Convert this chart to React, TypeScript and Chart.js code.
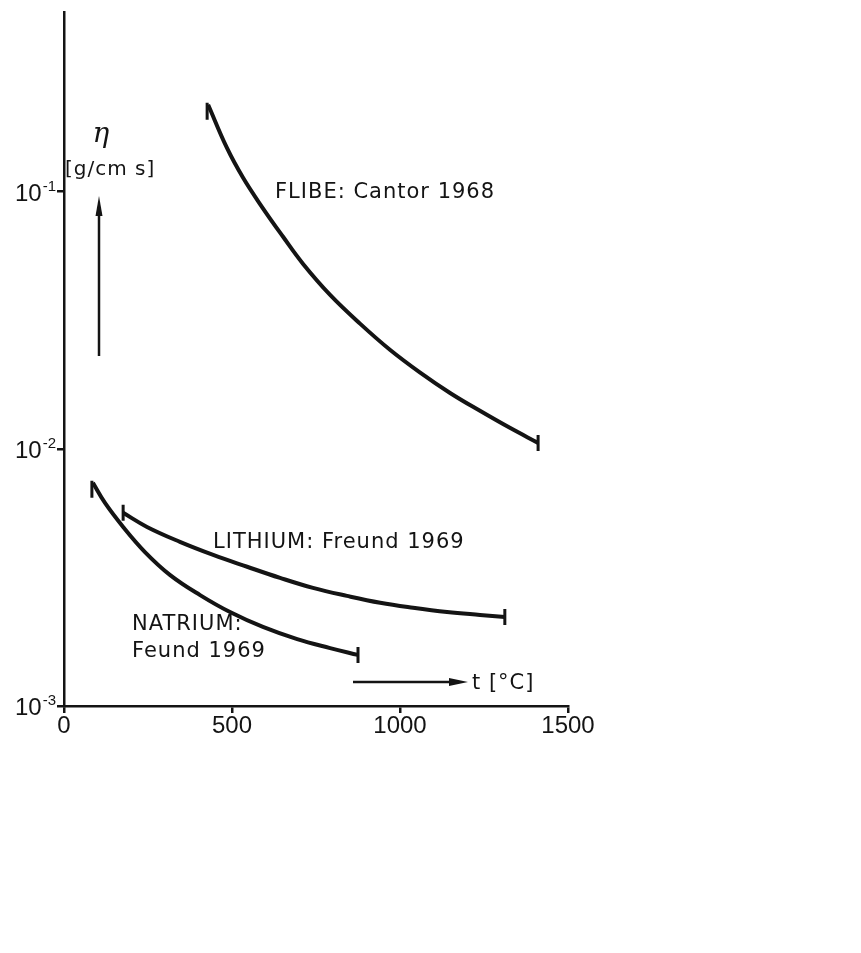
import React, { useEffect, useRef } from 'react';
import { Chart, registerables } from 'chart.js';

Chart.register(...registerables);

// ---- data (t in °C, viscosity in g/cm s) ----
const flibeT = [429, 485, 533, 589, 652, 711, 792, 881, 970, 1060, 1149, 1238, 1327, 1411];
const flibeEta = [0.218, 0.148, 0.1133, 0.0874, 0.0668, 0.0525, 0.0397, 0.0307, 0.0243, 0.0198, 0.0165, 0.01406, 0.01207, 0.01055];

const lithiumT = [176, 247, 345, 444, 545, 643, 741, 842, 941, 1039, 1140, 1238, 1312];
const lithiumEta = [0.00564, 0.00497, 0.00435, 0.00387, 0.00348, 0.00315, 0.00288, 0.00268, 0.00252, 0.00241, 0.00232, 0.00226, 0.00222];

const natriumT = [86, 122, 176, 241, 316, 405, 494, 592, 694, 792, 875];
const natriumEta = [0.00738, 0.00616, 0.00497, 0.00397, 0.00323, 0.0027, 0.00232, 0.00203, 0.00182, 0.00168, 0.00158];

const seriesNames = ['FLIBE: Cantor 1968', 'LITHIUM: Freund 1969', 'NATRIUM: Feund 1969'];

const xMin = 0;
const xMax = 1500;
const xStep = 500;
const yMin = 0.001;
const yMax = 0.5;
const yTickValues = [0.001, 0.01, 0.1];
const yTickBase = ['10', '10', '10'];
const yTickExp = ['-3', '-2', '-1'];

const INK = '#141414';

const pts = (xs: number[], ys: number[]) => xs.map((x, i) => ({ x, y: ys[i] }));

// end-cap style per series: start cap and end cap
const capStyle = [
  { start: 'down', end: 'center' },
  { start: 'center', end: 'center' },
  { start: 'down', end: 'center' },
];

const capsPlugin = {
  id: 'caps',
  afterDatasetsDraw(chart: any) {
    const ctx = chart.ctx;
    ctx.save();
    ctx.strokeStyle = INK;
    ctx.lineWidth = 3;
    ctx.lineCap = 'butt';
    chart.data.datasets.forEach((_: any, i: number) => {
      const els = chart.getDatasetMeta(i).data;
      if (!els.length) return;
      const first = els[0];
      const last = els[els.length - 1];
      const st = capStyle[i];
      ctx.beginPath();
      if (st.start === 'down') {
        ctx.moveTo(first.x - 1, first.y - 2);
        ctx.lineTo(first.x - 1, first.y + 15);
      } else {
        ctx.moveTo(first.x, first.y - 8);
        ctx.lineTo(first.x, first.y + 8);
      }
      ctx.moveTo(last.x, last.y - 8);
      ctx.lineTo(last.x, last.y + 8);
      ctx.stroke();
    });
    ctx.restore();
  },
};

// y tick labels as powers of ten with a raised exponent
const yLabelPlugin = {
  id: 'ylabels',
  afterDraw(chart: any) {
    const ctx = chart.ctx;
    const ys = chart.scales.y;
    const right = ys.right - 8;
    ctx.save();
    ctx.fillStyle = INK;
    ctx.textBaseline = 'alphabetic';
    ctx.textAlign = 'right';
    yTickValues.forEach((v, i) => {
      const py = ys.getPixelForValue(v);
      ctx.font = '15px "Liberation Sans"';
      const expW = ctx.measureText(yTickExp[i]).width;
      ctx.fillText(yTickExp[i], right, py - 1);
      ctx.font = '24px "Liberation Sans"';
      ctx.fillText(yTickBase[i], right - expW - 1, py + 9);
    });
    ctx.restore();
  },
};

const textPlugin = {
  id: 'texts',
  afterDraw(chart: any) {
    const ctx = chart.ctx;
    ctx.save();
    ctx.fillStyle = INK;
    ctx.strokeStyle = INK;
    ctx.textAlign = 'left';
    ctx.textBaseline = 'alphabetic';

    // curve labels
    ctx.font = '21px "DejaVu Sans"';
    ctx.letterSpacing = '1px';
    ctx.fillText(seriesNames[0], 275, 198);
    ctx.fillText(seriesNames[1], 213, 548);
    ctx.fillText('NATRIUM:', 132, 630);
    ctx.fillText('Feund 1969', 132, 657);

    // axis titles
    ctx.font = '20px "DejaVu Sans"';
    ctx.fillText('[g/cm s]', 65, 175);
    ctx.font = '21px "DejaVu Sans"';
    ctx.fillText('t [\u00B0C]', 472, 689);
    ctx.letterSpacing = '0px';
    ctx.font = 'italic 28px "DejaVu Serif"';
    ctx.textAlign = 'center';
    ctx.fillText('\u03B7', 101, 142);

    // up arrow
    ctx.lineWidth = 2.5;
    ctx.beginPath();
    ctx.moveTo(99, 356);
    ctx.lineTo(99, 210);
    ctx.stroke();
    ctx.beginPath();
    ctx.moveTo(99, 196);
    ctx.lineTo(95.5, 216);
    ctx.lineTo(102.5, 216);
    ctx.closePath();
    ctx.fill();

    // right arrow
    ctx.beginPath();
    ctx.moveTo(353, 682);
    ctx.lineTo(455, 682);
    ctx.stroke();
    ctx.beginPath();
    ctx.moveTo(468, 682);
    ctx.lineTo(449, 678);
    ctx.lineTo(449, 686);
    ctx.closePath();
    ctx.fill();

    ctx.restore();
  },
};

export default function App() {
  const ref = useRef<HTMLCanvasElement | null>(null);

  useEffect(() => {
    if (!ref.current) return;
    const lineStyle = {
      borderColor: INK,
      borderWidth: 4,
      pointRadius: 0,
      fill: false,
      tension: 0.4,
    };
    const chart = new Chart(ref.current, {
      type: 'line',
      data: {
        datasets: [
          { label: seriesNames[0], data: pts(flibeT, flibeEta), ...lineStyle },
          { label: seriesNames[1], data: pts(lithiumT, lithiumEta), ...lineStyle },
          { label: seriesNames[2], data: pts(natriumT, natriumEta), ...lineStyle },
        ],
      },
      options: {
        animation: false,
        responsive: false,
        devicePixelRatio: 1,
        layout: { padding: { left: 0, top: 12, right: 293, bottom: 0 } },
        plugins: {
          legend: { display: false },
          tooltip: { enabled: false },
          title: { display: false },
        },
        scales: {
          x: {
            type: 'linear',
            min: xMin,
            max: xMax,
            border: { display: true, color: INK, width: 2.5 },
            grid: { drawOnChartArea: false, drawTicks: true, tickLength: 7, color: INK, lineWidth: 2.5 },
            ticks: {
              stepSize: xStep,
              color: INK,
              padding: -1,
              maxRotation: 0,
              font: { family: '"Liberation Sans"', size: 24 },
              callback: (v: any) => String(v),
            },
            afterFit: (s: any) => {
              s.height = 953 - 706;
              s.paddingLeft = 0;
              s.paddingRight = 0;
              s.paddingTop = 0;
              s.paddingBottom = 0;
            },
          },
          y: {
            type: 'logarithmic',
            min: yMin,
            max: yMax,
            border: { display: true, color: INK, width: 2.5 },
            grid: { drawOnChartArea: false, drawTicks: true, tickLength: 7, color: INK, lineWidth: 2.5 },
            afterBuildTicks: (s: any) => {
              s.ticks = yTickValues.map((v) => ({ value: v }));
            },
            ticks: {
              display: false,
              autoSkip: false,
            },
            afterFit: (s: any) => {
              s.width = 64;
              s.paddingLeft = 0;
              s.paddingRight = 0;
              s.paddingTop = 0;
              s.paddingBottom = 0;
            },
          },
        },
      },
      plugins: [capsPlugin, yLabelPlugin, textPlugin],
    });
    return () => chart.destroy();
  }, []);

  return (
    <div style={{ position: 'fixed', left: 0, top: 0, width: 861, height: 953, background: '#fff' }}>
      <canvas ref={ref} width={861} height={953} style={{ width: 861, height: 953, display: 'block' }} />
    </div>
  );
}
